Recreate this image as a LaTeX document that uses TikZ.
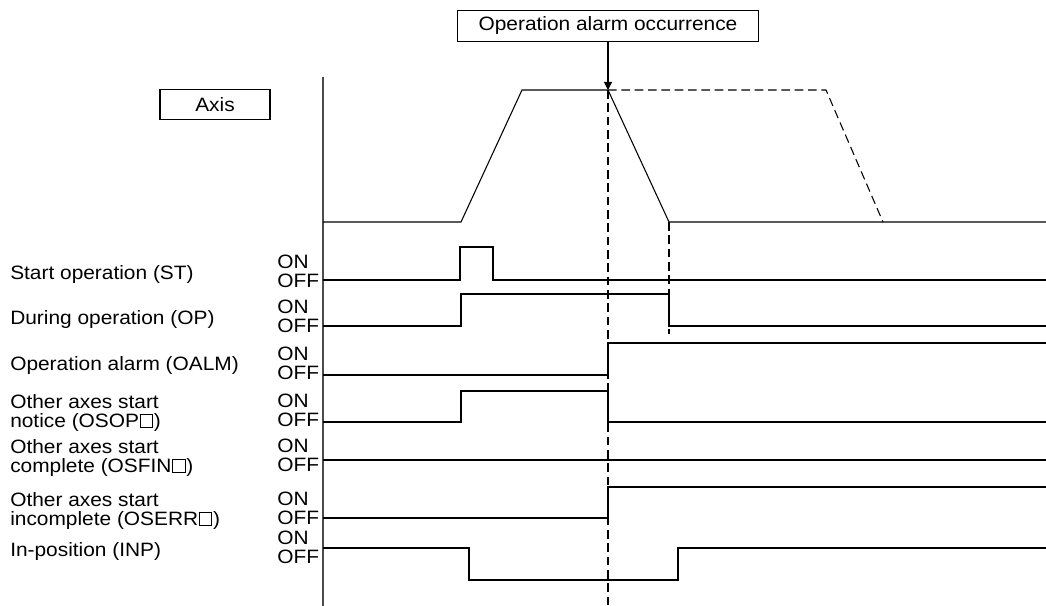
\documentclass[tikz,border=0pt]{standalone}
\usepackage{fontspec}
\setmainfont{Liberation Sans}[FakeStretch=1.08]
\usetikzlibrary{arrows.meta, positioning}

% device number placeholder square
\newcommand\devsq{{\setlength\fboxsep{0pt}\setlength\fboxrule{0.8pt}%
  \kern0.5pt\fbox{\rule{0pt}{9pt}\rule{8.5pt}{0pt}}\kern0.5pt}}

\begin{document}
\begin{tikzpicture}[
  x=0.75pt, y=-0.75pt,
  >={Triangle[length=6pt, width=6pt]},
  font=\fontsize{14.5}{14.25}\selectfont,
  sig/.style={line width=0.8pt},
  guide/.style={line width=0.8pt, dash pattern=on 6.5pt off 3.5pt},
  tag/.style={draw, line width=0.8pt, minimum height=23pt, inner sep=0pt},
  lbl/.style={anchor=base west, inner sep=0pt, align=left},
  onoff/.style={anchor=south west, inner sep=0pt, align=left},
]
  \useasboundingbox (0,0) rectangle (1046,606);

  % Boxes
  \node[tag, minimum width=82.5pt] (axis) at (215,104.5) {Axis};
  \node[tag, minimum width=226pt] (alarm) at (608,26) {Operation alarm occurrence};

  % Time axis
  \draw[line width=1pt, black!70] (323,77) -- (323,606);

  % Axis speed profile
  \coordinate (peak) at (608,90);
  \draw[->, sig] (alarm.south -| peak) -- (peak);
  \draw[sig] (323,222) -- (461,222) -- (522,90) -- (peak) -- (669,222) -- (1046,222);
  \draw[guide] (peak) -- (826,90) -- (883,222);

  % Guides
  \draw[guide] (peak) -- (608,606);
  \draw[guide] (669,222) -- (669,334);

  % Signal names (base = last line)
  \node[lbl] (st)    at (10,279) {Start operation (ST)};
  \node[lbl] (op)    at (10,324) {During operation (OP)};
  \node[lbl] (oalm)  at (10,370) {Operation alarm (OALM)};
  \node[lbl] (osop)  at (10,427) {Other axes start\\notice (OSOP\devsq)};
  \node[lbl] (osfin) at (10,472) {Other axes start\\complete (OSFIN\devsq)};
  \node[lbl] (oserr) at (10,525) {Other axes start\\incomplete (OSERR\devsq)};
  \node[lbl] (inp)   at (10,556) {In-position (INP)};

  \foreach \y/\n in {288/st, 333/op, 380/oalm, 427/osop, 472/osfin, 525/oserr, 564/inp}
    \node[onoff] (\n-io) at (277,\y) {ON\\OFF};

  % Signals
  \draw[sig] (323,280) -- (460,280) -- (460,247) -- (493,247) -- (493,280) -- (1046,280);
  \draw[sig] (323,326) -- (461,326) -- (461,294) -- (669,294) -- (669,326) -- (1046,326);
  \draw[sig] (323,375) -- (608,375) -- (608,343) -- (1046,343);
  \draw[sig] (323,422) -- (461,422) -- (461,391) -- (608,391) -- (608,422) -- (1046,422);
  \draw[sig] (323,460) -- (1046,460);
  \draw[sig] (323,518) -- (608,518) -- (608,487) -- (1046,487);
  \draw[sig] (323,548) -- (469,548) -- (469,580) -- (678,580) -- (678,548) -- (1046,548);

\end{tikzpicture}
\end{document}
